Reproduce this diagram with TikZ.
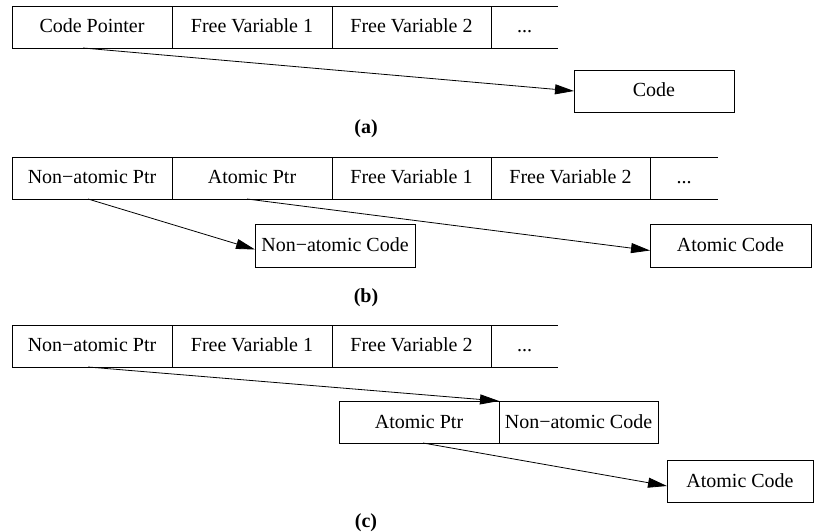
\documentclass[tikz,border=0pt]{standalone}
\usepackage{fontspec}
\setmainfont{Liberation Serif}
\usetikzlibrary{arrows.meta}
\begin{document}
\begin{tikzpicture}[x=1pt,y=-1pt,
  every node/.style={font=\fontsize{20pt}{24pt}\selectfont, inner sep=0pt, outer sep=0pt,
    text height=15.5pt, text depth=3.5pt},
  cell/.style={draw, line width=0.8pt, minimum width=160pt, minimum height=42pt},
  opencell/.style={minimum height=42pt},
  ptr/.style={line width=0.8pt, -{Triangle[length=19pt,width=10pt]}},
  sub/.style={font=\bfseries\fontsize{20pt}{24pt}\selectfont},
  edge/.style={line width=0.8pt}]
\useasboundingbox (0,0) rectangle (815,532);
% (a)
\node[cell] (a1) at (92,27) {Code Pointer};
\node[cell] (a2) at (252,27) {Free Variable 1};
\node[cell, minimum width=159pt] (a3) at (411.5,27) {Free Variable 2};
\node[opencell, minimum width=67pt] (a4) at (524.5,27) {...};
\draw[edge] (a3.north east) -- (a3.north east -| a4.east);
\draw[edge] (a3.south east) -- (a3.south east -| a4.east);
\node[cell] (acode) at (654,91) {Code};
\draw[ptr] ([xshift=-9pt]a1.south) -- (acode.west);
\node[sub] (la) at (366,128) {(a)};
% (b)
\node[cell] (b1) at (92,178) {Non−atomic Ptr};
\node[cell] (b2) at (252,178) {Atomic Ptr};
\node[cell, minimum width=159pt] (b3) at (411.5,178) {Free Variable 1};
\node[cell, minimum width=159pt] (b4) at (570.5,178) {Free Variable 2};
\node[opencell, minimum width=68pt] (b5) at (684,178) {...};
\draw[edge] (b4.north east) -- (b4.north east -| b5.east);
\draw[edge] (b4.south east) -- (b4.south east -| b5.east);
\node[cell, minimum height=43pt] (bnac) at (335,245.5) {Non−atomic Code};
\node[cell, minimum height=43pt, minimum width=161pt] (bac) at (730.5,245.5) {Atomic Code};
\draw[ptr] ([xshift=-4pt]b1.south) -- ([yshift=-4pt]bnac.west);
\draw[ptr] ([xshift=-5pt]b2.south) -- ([yshift=-5pt]bac.west);
\node[sub] (lb) at (366,296) {(b)};
% (c)
\node[cell] (c1) at (92,346) {Non−atomic Ptr};
\node[cell] (c2) at (252,346) {Free Variable 1};
\node[cell, minimum width=159pt] (c3) at (411.5,346) {Free Variable 2};
\node[opencell, minimum width=67pt] (c4) at (524.5,346) {...};
\draw[edge] (c3.north east) -- (c3.north east -| c4.east);
\draw[edge] (c3.south east) -- (c3.south east -| c4.east);
\node[cell] (cap) at (419,422) {Atomic Ptr};
\node[cell, minimum width=159pt] (cnac) at (578.5,422) {Non−atomic Code};
\node[cell, minimum width=146pt] (cac) at (740,481) {Atomic Code};
\draw[ptr] ([xshift=-4pt]c1.south) -- (cnac.north west);
\draw[ptr] ([xshift=4pt]cap.south) -- ([yshift=-5pt]cac.west);
\node[sub] (lc) at (366,521) {(c)};
\end{tikzpicture}
\end{document}
